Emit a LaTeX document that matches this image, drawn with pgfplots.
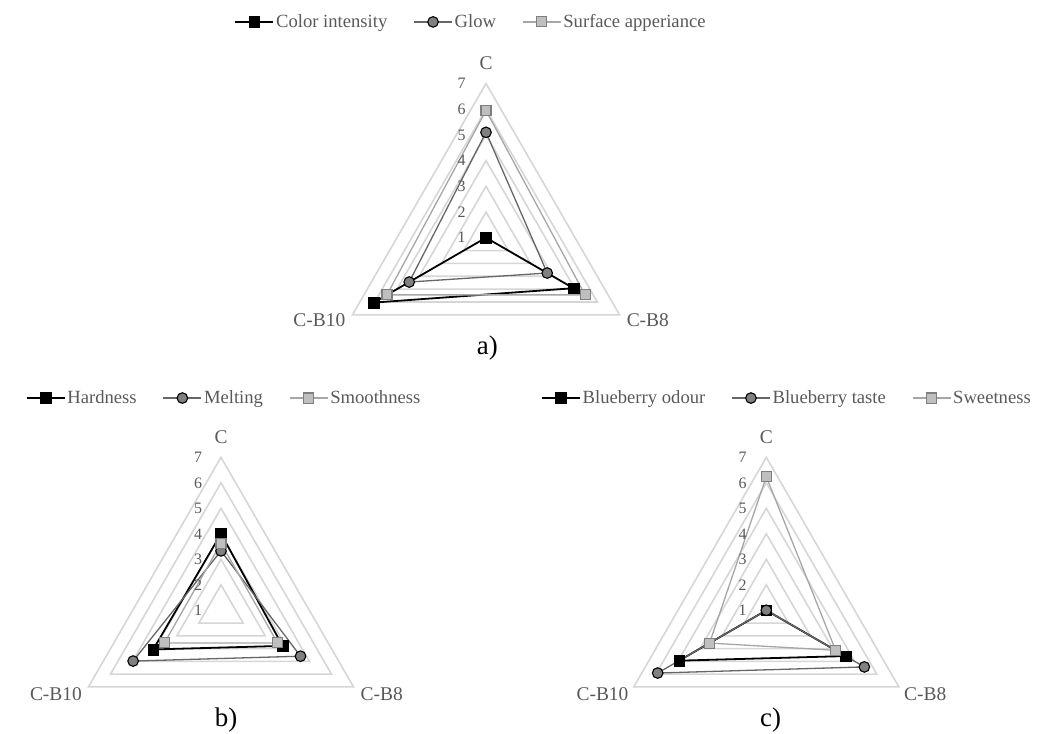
\documentclass[border=0pt]{standalone}
\usepackage{fontspec}
\setmainfont{Liberation Serif}
\usepackage{pgfplots}
\usepackage{pgfplotstable}
\pgfplotsset{compat=1.18}
\definecolor{txt}{HTML}{595959}
\definecolor{gridc}{HTML}{D6D6D6}
\definecolor{s2line}{HTML}{666666}
\definecolor{s2fill}{HTML}{808080}
\definecolor{s3line}{HTML}{A6A6A6}
\definecolor{s3fill}{HTML}{BFBFBF}
\definecolor{s3draw}{HTML}{7F7F7F}

% angle (deg) and values; radial axis runs from 1 (centre) to 7
\pgfplotstableread{
a   s1   s2   s3
90  1.00 5.10 5.95
330 4.93 3.75 5.45
210 6.05 4.45 5.45
}\dataA
\pgfplotstableread{
a   s1   s2   s3
90  4.00 3.33 3.63
330 3.79 4.60 3.56
210 4.07 4.98 3.56
}\dataB
\pgfplotstableread{
a   s1   s2   s3
90  1.00 1.00 6.24
330 4.59 5.44 4.14
210 4.95 5.92 3.57
}\dataC
\pgfplotstableread{
a   r
90  1
330 1
210 1
}\gridT

\tikzset{
  serA/.style={black, line width=1.8bp, mark=square*, mark size=5.3bp,
    mark options={solid, fill=black, draw=black, line width=0.5bp}},
  serB/.style={s2line, line width=1.3bp, mark=*, mark size=5.3bp,
    mark options={solid, fill=s2fill, draw=black, line width=1.1bp}},
  serC/.style={s3line, line width=1.3bp, mark=square*, mark size=5bp,
    mark options={solid, fill=s3fill, draw=s3draw, line width=1.1bp}},
  catlbl/.style={font=\fontsize{19.5}{21}\selectfont, text=txt, inner sep=0pt},
  tcklbl/.style={font=\fontsize{16}{18}\selectfont, text=txt, inner sep=0pt},
  subcap/.style={font=\fontsize{27}{29}\selectfont, text=black, inner sep=0pt},
}
\pgfplotsset{
  radar/.style={hide axis, clip=false, anchor=origin,
    xmin=-6.5, xmax=6.5, ymin=-4, ymax=8,
    legend columns=-1,
    legend image code/.code={\draw[mark repeat=2,mark phase=2,##1] plot coordinates {(0bp,0bp) (19bp,0bp) (38bp,0bp)};},
    legend style={draw=none, fill=none, anchor=center, text=txt,
      font=\fontsize{18.7}{21}\selectfont},
  },
  gline/.style={gridc, line width=1.6bp, forget plot, no markers},
}

\newcommand{\radarplot}[3]{%
  \addplot[#1] table[x expr={(\thisrow{#2}-1)*cos(\thisrow{a})},
                     y expr={(\thisrow{#2}-1)*sin(\thisrow{a})}] {#3} -- cycle;}
\newcommand{\gap}{\hspace{24bp}\null}

\begin{document}
\begin{tikzpicture}
\useasboundingbox (0,0) rectangle (1054bp,-734bp);

% ---------------- a) ----------------
\begin{axis}[radar, at={(486bp,-237.7bp)}, x=25.7bp, y=25.7bp,
  legend style={at={(0.455,1.033)}}]
\pgfplotsinvokeforeach{1,...,6}{
  \addplot[gline] table[x expr={#1*cos(\thisrow{a})}, y expr={#1*sin(\thisrow{a})}] {\gridT} -- cycle;
}
\radarplot{serA}{s1}{\dataA}
\addlegendentry{Color intensity\gap}
\radarplot{serB}{s2}{\dataA}
\addlegendentry{Glow\gap}
\radarplot{serC}{s3}{\dataA}
\addlegendentry{Surface apperiance}
\node[catlbl] at (axis cs:0,6.8) {C};
\node[catlbl, anchor=east] at (axis cs:-5.47,-3.2) {C-B10};
\node[catlbl, anchor=west] at (axis cs:5.47,-3.2) {C-B8};
\node[subcap] at (axis cs:0.05,-4.28) {a)};
\node[tcklbl] at (axis cs:-0.95,0) {1};
\node[tcklbl] at (axis cs:-0.95,1) {2};
\node[tcklbl] at (axis cs:-0.95,2) {3};
\node[tcklbl] at (axis cs:-0.95,3) {4};
\node[tcklbl] at (axis cs:-0.95,4) {5};
\node[tcklbl] at (axis cs:-0.95,5) {6};
\node[tcklbl] at (axis cs:-0.95,6) {7};
\end{axis}

% ---------------- b) ----------------
\begin{axis}[radar, at={(221bp,-610.3bp)}, x=25.5bp, y=25.5bp,
  legend style={at={(0.509,1.027)}}]
\pgfplotsinvokeforeach{1,...,6}{
  \addplot[gline] table[x expr={#1*cos(\thisrow{a})}, y expr={#1*sin(\thisrow{a})}] {\gridT} -- cycle;
}
\radarplot{serA}{s1}{\dataB}
\addlegendentry{Hardness\gap}
\radarplot{serB}{s2}{\dataB}
\addlegendentry{Melting\gap}
\radarplot{serC}{s3}{\dataB}
\addlegendentry{Smoothness}
\node[catlbl] at (axis cs:0,6.8) {C};
\node[catlbl, anchor=east] at (axis cs:-5.45,-3.28) {C-B10};
\node[catlbl, anchor=west] at (axis cs:5.47,-3.28) {C-B8};
\node[subcap] at (axis cs:0.2,-4.3) {b)};
\node[tcklbl] at (axis cs:-0.9,0) {1};
\node[tcklbl] at (axis cs:-0.9,1) {2};
\node[tcklbl] at (axis cs:-0.9,2) {3};
\node[tcklbl] at (axis cs:-0.9,3) {4};
\node[tcklbl] at (axis cs:-0.9,4) {5};
\node[tcklbl] at (axis cs:-0.9,5) {6};
\node[tcklbl] at (axis cs:-0.9,6) {7};
\end{axis}

% ---------------- c) ----------------
\begin{axis}[radar, at={(766.3bp,-610.3bp)}, x=25.5bp, y=25.5bp,
  legend style={at={(0.562,1.027)}}]
\pgfplotsinvokeforeach{1,...,6}{
  \addplot[gline] table[x expr={#1*cos(\thisrow{a})}, y expr={#1*sin(\thisrow{a})}] {\gridT} -- cycle;
}
\radarplot{serA}{s1}{\dataC}
\addlegendentry{Blueberry odour\gap}
\radarplot{serB}{s2}{\dataC}
\addlegendentry{Blueberry taste\gap}
\radarplot{serC}{s3}{\dataC}
\addlegendentry{Sweetness}
\node[catlbl] at (axis cs:0,6.8) {C};
\node[catlbl, anchor=east] at (axis cs:-5.4,-3.28) {C-B10};
\node[catlbl, anchor=west] at (axis cs:5.4,-3.28) {C-B8};
\node[subcap] at (axis cs:0.17,-4.32) {c)};
\node[tcklbl] at (axis cs:-0.93,0) {1};
\node[tcklbl] at (axis cs:-0.93,1) {2};
\node[tcklbl] at (axis cs:-0.93,2) {3};
\node[tcklbl] at (axis cs:-0.93,3) {4};
\node[tcklbl] at (axis cs:-0.93,4) {5};
\node[tcklbl] at (axis cs:-0.93,5) {6};
\node[tcklbl] at (axis cs:-0.93,6) {7};
\end{axis}
\end{tikzpicture}
\end{document}
